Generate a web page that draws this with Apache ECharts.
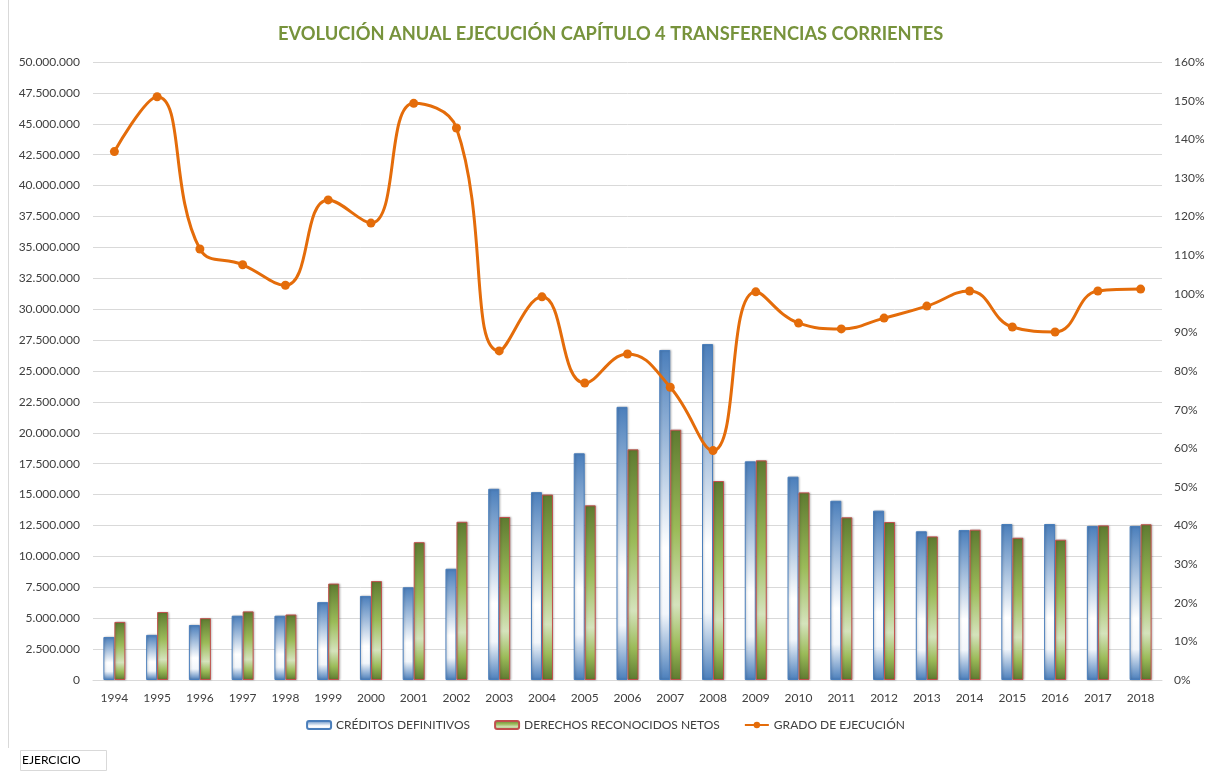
<!DOCTYPE html>
<html>
<head>
<meta charset="utf-8">
<script src="https://cdn.jsdelivr.net/npm/echarts@6/dist/echarts.min.js"></script>
<style>html,body{margin:0;padding:0;background:#fff}#c{width:1211px;height:774px}</style>
</head>
<body>
<div id="c"></div>
<script>
const years = ['1994','1995','1996','1997','1998','1999','2000','2001','2002','2003','2004','2005','2006','2007','2008','2009','2010','2011','2012','2013','2014','2015','2016','2017','2018'];
const creditos = [3480000,3650000,4450000,5200000,5200000,6300000,6800000,7500000,9000000,15470000,15200000,18340000,22100000,26700000,27180000,17690000,16450000,14500000,13700000,12030000,12130000,12620000,12620000,12460000,12460000];
const derechos = [4700000,5500000,5000000,5550000,5300000,7800000,8000000,11150000,12800000,13190000,15000000,14130000,18660000,20250000,16100000,17770000,15180000,13160000,12780000,11620000,12160000,11510000,11350000,12510000,12600000];
const grado = [136.8,151.0,111.6,107.5,102.2,124.3,118.3,149.3,142.9,85.2,99.2,76.9,84.4,75.8,59.4,100.5,92.4,90.9,93.7,96.8,100.7,91.4,90.1,100.7,101.2];
const seriesNames = ['CRÉDITOS DEFINITIVOS','DERECHOS RECONOCIDOS NETOS','GRADO DE EJECUCIÓN'];
const titleText = 'EVOLUCIÓN ANUAL EJECUCIÓN CAPÍTULO 4 TRANSFERENCIAS CORRIENTES';

const FONT = 'Lato, "Open Sans", sans-serif';
function thousands(v){ return String(Math.round(v)).replace(/\B(?=(\d{3})+(?!\d))/g,'.'); }

const blueGrad = new echarts.graphic.LinearGradient(0,0,0,1,[
  {offset:0,color:'#4A7EBB'},{offset:0.6,color:'#FFFFFF'},{offset:0.8,color:'#F2F6FB'},{offset:1,color:'#4A7EBB'}]);
const greenGrad = new echarts.graphic.LinearGradient(0,0,0,1,[
  {offset:0,color:'#5E7A30'},{offset:0.4,color:'#9BBB59'},{offset:0.7,color:'#D5E3BC'},{offset:0.86,color:'#9BBB59'},{offset:1,color:'#5E7A30'}]);

const chart = echarts.init(document.getElementById('c'), null, {renderer:'canvas'});
chart.setOption({
  animation:false,
  backgroundColor:'#ffffff',
  title:{text:titleText,left:273,top:20,textStyle:{fontFamily:FONT,fontSize:18.3,fontWeight:'bold',color:'#77933C'}},
  legend:{bottom:38,left:'center',itemWidth:24,itemHeight:8,itemGap:24,
    textStyle:{fontFamily:FONT,fontSize:12,color:'#404040'},
    data:[{name:seriesNames[0]},{name:seriesNames[1]},{name:seriesNames[2]}]},
  grid:{left:93,right:49,top:62,bottom:94},
  xAxis:{type:'category',data:years,boundaryGap:true,
    axisLine:{show:true,lineStyle:{color:'#D9D9D9'}},axisTick:{show:false},
    axisLabel:{fontFamily:FONT,fontSize:12,color:'#404040',margin:12,interval:0}},
  yAxis:[
    {type:'value',min:0,max:50000000,interval:2500000,
      axisLine:{show:false},axisTick:{show:false},
      splitLine:{lineStyle:{color:'#D9D9D9',width:1}},
      axisLabel:{fontFamily:FONT,fontSize:12,color:'#404040',margin:13,formatter:thousands}},
    {type:'value',min:0,max:160,interval:10,
      axisLine:{show:false},axisTick:{show:false},splitLine:{show:false},
      axisLabel:{fontFamily:FONT,fontSize:12,color:'#404040',margin:12,formatter:v=>v+'%'}}
  ],
  series:[
    {name:seriesNames[0],type:'bar',data:creditos,barWidth:11,barGap:'0%',
      itemStyle:{color:blueGrad,borderColor:'#4A7EBB',borderWidth:1,shadowColor:'rgba(0,0,0,0.2)',shadowBlur:2,shadowOffsetX:1,shadowOffsetY:0}},
    {name:seriesNames[1],type:'bar',data:derechos,barWidth:11,barGap:'0%',
      itemStyle:{color:greenGrad,borderColor:'#C0504D',borderWidth:1,shadowColor:'rgba(0,0,0,0.2)',shadowBlur:2,shadowOffsetX:1,shadowOffsetY:0}},
    {name:seriesNames[2],type:'line',yAxisIndex:1,data:grado,smooth:0.45,
      symbol:'circle',symbolSize:9,
      lineStyle:{color:'#E46C0A',width:3},itemStyle:{color:'#E46C0A'}}
  ],
  graphic:[
    {type:'line',shape:{x1:8.5,y1:0,x2:8.5,y2:748},style:{stroke:'#D9D9D9',lineWidth:1}},
    {type:'rect',shape:{x:20.5,y:750.5,width:86,height:20},style:{fill:'#fff',stroke:'#D9D9D9',lineWidth:1}},
    {type:'text',left:22,top:754,style:{text:'EJERCICIO',font:'12px '+FONT,fill:'#000'}}
  ]
});
</script>
</body>
</html>
